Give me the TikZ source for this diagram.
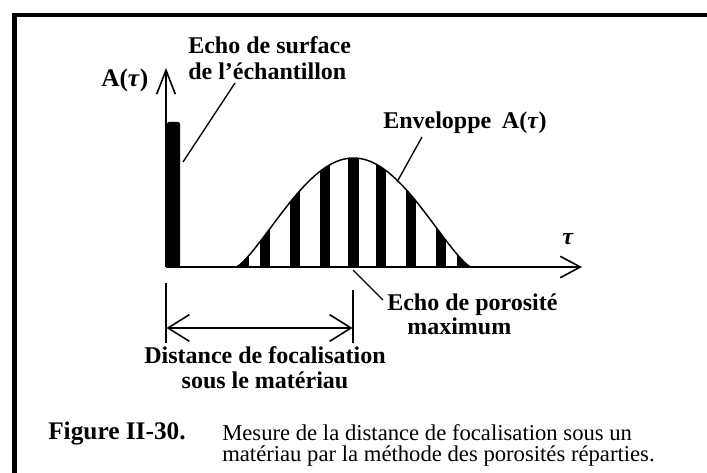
\documentclass[tikz,border=0pt]{standalone}
\usepackage{fontspec}
\setmainfont{Liberation Serif}
\usetikzlibrary{arrows.meta, positioning}
\definecolor{inkcol}{HTML}{000000}
\tikzset{
  lbl/.style={font=\bfseries\fontsize{18}{20}\selectfont, inner sep=0pt, text=inkcol},
  caplbl/.style={font=\fontsize{17}{15.8}\selectfont, inner sep=0pt, text=inkcol},
  yarrow/.style={line width=1.1pt, -{Straight Barb[length=18pt, width=14pt, line width=1.2pt]}},
  xarrow/.style={line width=1.1pt, -{Straight Barb[length=15pt, width=16pt, line width=1.2pt]}},
  dimarrow/.style={line width=1.1pt, {Straight Barb[length=16pt, width=20pt, line width=1.2pt]}-{Straight Barb[length=16pt, width=20pt, line width=1.2pt]}},
  ptr/.style={line width=1pt},
  envline/.style={line width=1.1pt},
  surfbar/.style={draw=none, fill=inkcol, rounded corners=1.5pt, minimum width=9.75pt, minimum height=108.75pt, inner sep=0pt},
}

\begin{document}
\begin{tikzpicture}[x=0.75pt, y=-0.75pt,
  declare function={envc(\t)=max(cos((\t-353.5)/234*180),0.001);
                    env(\t)=267-109*envc(\t)*sqrt(sqrt(envc(\t)));}]
  \useasboundingbox (0,0) rectangle (707,473);
  % ── frame (cut at right and bottom) ──────────────────────────────
  \draw[line width=3.6pt] (14.5,473) -- (14.5,15) -- (707,15);
  % ── axes ─────────────────────────────────────────────────────────
  \coordinate (O)    at (166,267);
  \coordinate (ytip) at (166,68);
  \coordinate (xtip) at (582,267);
  % ── porosity echoes under the envelope ───────────────────────────
  \begin{scope}
    \clip plot[domain=236.5:470.5, samples=80, smooth] (\x,{env(\x)}) -- cycle;
    \foreach \bx/\bw in {243/11, 265/10, 295/10, 324.5/10, 353/11, 381/10, 411/10, 441/10, 463.5/13}
      \fill[inkcol] ({\bx-\bw/2},268) rectangle ({\bx+\bw/2},150);
  \end{scope}
  \draw[envline] plot[domain=236.5:470.5, samples=80, smooth] (\x,{env(\x)});
  \draw[yarrow] (O) -- (ytip);
  \draw[xarrow] (O) -- (xtip);
  % ── surface echo ─────────────────────────────────────────────────
  \node[surfbar] (surf) at (173.5,194.5) {};
  % ── labels ───────────────────────────────────────────────────────
  \node[lbl, anchor=base west, font=\bfseries\fontsize{19}{20}\selectfont] (Alab) at (101,87) {A(\textit{τ})};
  \node[lbl, anchor=base] (taulab) at (568,245) {\textit{τ}};
  \node[lbl, anchor=north west, align=left] (surflab) at (188,36)
    {Echo de surface\\de l'échantillon};
  \node[lbl, anchor=base west] (envlab) at (383,129) {Enveloppe\hspace{8pt}A(\textit{τ})};
  \node[lbl, anchor=base west] (porlab) at (387,311) {Echo de porosité};
  \node[lbl, anchor=base west] (porlab2) at (407,335) {maximum};
  \node[lbl, anchor=north, align=center, font=\bfseries\fontsize{18}{19}\selectfont]
    (distlab) at (265,346) {Distance de focalisation\\sous le matériau};
  % ── pointer lines ────────────────────────────────────────────────
  \coordinate (s1) at (183,162);
  \coordinate (s2) at (235,83);
  \draw[ptr] (s1) -- (s2);
  \coordinate (e1) at (422,137);
  \coordinate (e2) at (397,182);
  \draw[ptr] (e1) -- (e2);
  \coordinate (m1) at (353,270);
  \coordinate (m2) at (383,300);
  \draw[ptr] (m1) -- (m2);
  % ── focal distance dimension ─────────────────────────────────────
  \coordinate (dl1) at (166,283);
  \coordinate (dl2) at (166,343);
  \coordinate (dr1) at (353,290);
  \coordinate (dr2) at (353,343);
  \draw[ptr] (dl1) -- (dl2);
  \draw[ptr] (dr1) -- (dr2);
  \coordinate (da) at (166.5,328);
  \coordinate (db) at (352.5,328);
  \draw[dimarrow] (da) -- (db);
  % ── caption ──────────────────────────────────────────────────────
  \node[caplbl, anchor=base west, font=\bfseries\fontsize{19}{15.8}\selectfont]
    (figlab) at (48,440) {Figure II-30.};
  \node[caplbl, anchor=north west, align=left] (captxt) at (222,424)
    {Mesure de la distance de focalisation sous un\\matériau par la méthode des porosités réparties.};
\end{tikzpicture}
\end{document}
